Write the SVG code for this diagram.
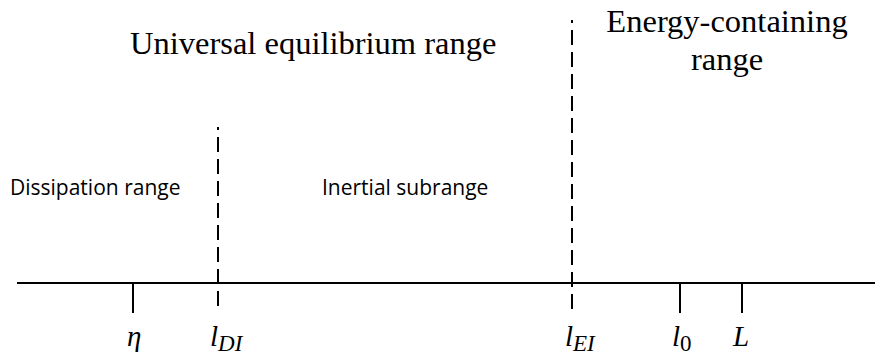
<svg xmlns="http://www.w3.org/2000/svg" width="875" height="356" viewBox="0 0 875 356">
<style>
.ln{stroke:#000;stroke-width:2;fill:none}
.dash{stroke:#000;stroke-width:2;fill:none;stroke-dasharray:15 7;stroke-dashoffset:12}
.title{font-family:"Liberation Serif",serif;font-size:32.5px;fill:#000}
.lab{font-family:"Open Sans","Liberation Sans",sans-serif;font-size:21px;fill:#000}
.math{font-family:"Liberation Serif",serif;font-style:italic;font-size:29px;fill:#000}
.sub{font-size:23px}
</style>
<rect width="875" height="356" fill="#fff"/>
<g id="connectors">
<line class="ln" x1="17" y1="283" x2="875" y2="283"/>
<line class="ln" x1="133" y1="283" x2="133" y2="313"/>
<line class="dash" x1="218" y1="127" x2="218" y2="313"/>
<line class="dash" x1="572" y1="20" x2="572" y2="313"/>
<line class="ln" x1="680" y1="283" x2="680" y2="313"/>
<line class="ln" x1="742" y1="283" x2="742" y2="313"/>
</g>
<g id="universal"><text class="title" x="130" y="54">Universal equilibrium range</text></g>
<g id="energy"><text class="title" x="727" y="32" text-anchor="middle">Energy-containing</text><text class="title" x="727" y="70" text-anchor="middle">range</text></g>
<g id="dissipation"><text class="lab" x="10" y="195">Dissipation range</text></g>
<g id="inertial"><text class="lab" x="322" y="195">Inertial subrange</text></g>
<g id="eta"><text class="math" x="127" y="346">η</text></g>
<g id="lDI"><text class="math" x="210" y="346">l<tspan class="sub" dy="5">DI</tspan></text></g>
<g id="lEI"><text class="math" x="565" y="346">l<tspan class="sub" dy="5">EI</tspan></text></g>
<g id="l0"><text class="math" x="672" y="346">l<tspan class="sub" dy="5" font-style="normal">0</tspan></text></g>
<g id="L"><text class="math" x="733" y="346">L</text></g>
</svg>
